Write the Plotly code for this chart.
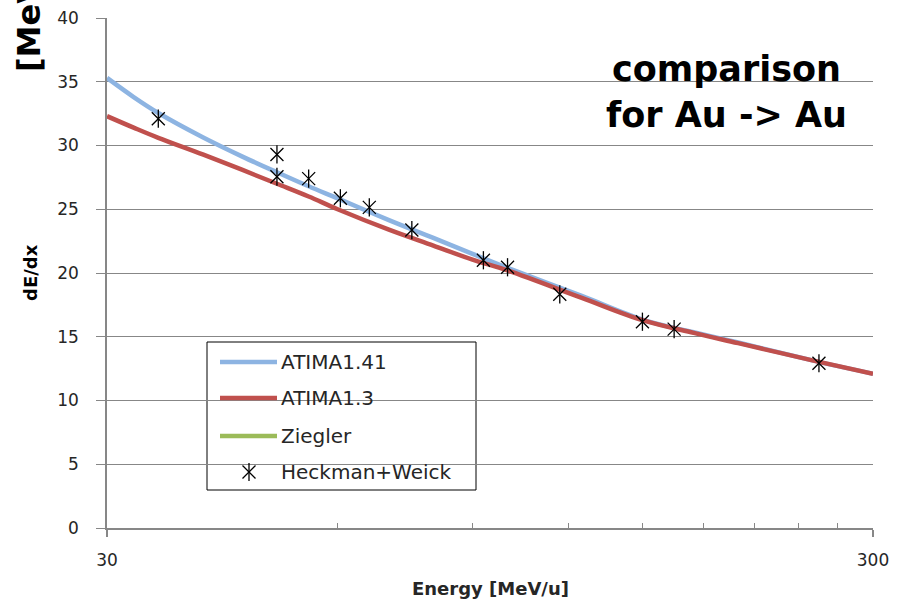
import plotly.graph_objects as go

# Stopping power curves (energy in MeV/u, dE/dx)
energy_curve = [30, 32.5, 35, 40, 45, 50, 55, 60, 70, 80, 90, 100, 125, 150, 175, 200, 250, 300]
dedx_atima141 = [35.3, 33.8, 32.55, 30.65, 29.15, 27.9, 26.8, 25.85, 24.15, 22.75, 21.5, 20.4,
                 18.2, 16.35, 15.35, 14.55, 13.15, 12.1]
dedx_atima13 = [32.3, 31.4, 30.6, 29.3, 28.1, 27.0, 26.0, 25.0, 23.4, 22.15, 21.05, 20.2,
                18.05, 16.3, 15.3, 14.5, 13.15, 12.1]

# Heckman+Weick measurements
energy_hw = [35, 50, 50, 55, 60.5, 66, 75, 93, 100, 117, 150, 165, 255]
dedx_hw = [32.1, 29.3, 27.55, 27.4, 25.86, 25.15, 23.37, 21.0, 20.45, 18.33, 16.18, 15.6, 12.92]

series_names = ["ATIMA1.41", "ATIMA1.3", "Ziegler", "Heckman+Weick"]
series_colors = ["#8db4e2", "#c0504d", "#9bbb59", "#000000"]

x_ticks = [30, 300]
x_minor_ticks = [60, 90, 120, 150, 180, 210, 240, 270]

W, H = 899, 601
L, R, T, B = 107, 26, 18, 73
PW, PH = W - L - R, H - T - B


def px(x):
    return (x - L) / PW


def py(y):
    return (H - B - y) / PH


GRAY = "#878787"
TXT = "#262626"

fig = go.Figure()

fig.add_trace(go.Scatter(x=energy_curve, y=dedx_atima141, mode="lines",
                         line=dict(color=series_colors[0], width=4.5, shape="spline",
                                   smoothing=1.0),
                         showlegend=False))
fig.add_trace(go.Scatter(x=energy_curve, y=dedx_atima13, mode="lines",
                         line=dict(color=series_colors[1], width=4.5, shape="spline",
                                   smoothing=1.0),
                         showlegend=False))
# star marker: an X plus a vertical stroke
for sym in ["x-thin-open", "line-ns-open"]:
    fig.add_trace(go.Scatter(x=energy_hw, y=dedx_hw, mode="markers",
                             marker=dict(symbol=sym, size=13, color="black",
                                         line=dict(color="black", width=1.3)),
                             showlegend=False))

# Legend drawn in paper space
box = dict(x0=px(207), x1=px(476), y0=py(490), y1=py(342))
shapes = [dict(type="rect", xref="paper", yref="paper", **box,
               line=dict(color="black", width=1), fillcolor="white", layer="between")]
row_y = [362, 398, 436, 472]
annotations = []
for i, (name, col, ry) in enumerate(zip(series_names, series_colors, row_y)):
    if i < 3:
        shapes.append(dict(type="line", xref="paper", yref="paper",
                           x0=px(220), x1=px(277), y0=py(ry), y1=py(ry),
                           line=dict(color=col, width=4.5), layer="above"))
    annotations.append(dict(xref="paper", yref="paper", x=px(279), y=py(ry),
                            xanchor="left", yanchor="middle", showarrow=False,
                            text=name, font=dict(family="DejaVu Sans", size=20, color=TXT)))

for sym in ["x-thin-open", "line-ns-open"]:
    fig.add_trace(go.Scatter(x=[px(249)], y=[py(472)], xaxis="x2", yaxis="y2",
                             mode="markers",
                             marker=dict(symbol=sym, size=13, color="black",
                                         line=dict(color="black", width=1.3)),
                             showlegend=False))

annotations.append(dict(xref="paper", yref="paper", x=px(726), y=py(92),
                        xanchor="center", yanchor="middle", showarrow=False,
                        text="comparison<br>for Au -> Au", align="center",
                        font=dict(family="DejaVu Sans", size=35, color="black", weight="bold")))
annotations.append(dict(xref="paper", yref="paper", x=px(30), y=py(273),
                        xanchor="center", yanchor="middle", showarrow=False,
                        textangle=-90, text="dE/dx",
                        font=dict(family="DejaVu Sans", size=18, color="black", weight="bold")))
annotations.append(dict(xref="paper", yref="paper", x=px(29), y=py(26),
                        xanchor="center", yanchor="middle", showarrow=False,
                        textangle=-90, text="[MeV",
                        font=dict(family="DejaVu Sans", size=32, color="black", weight="bold")))
annotations.append(dict(xref="paper", yref="paper", x=px(490), y=py(588),
                        xanchor="center", yanchor="middle", showarrow=False,
                        text="Energy [MeV/u]",
                        font=dict(family="DejaVu Sans", size=18, color=TXT, weight="bold")))

fig.update_layout(
    width=W, height=H,
    margin=dict(l=L, r=R, t=T, b=B, autoexpand=False),
    paper_bgcolor="white", plot_bgcolor="white",
    showlegend=False,
    shapes=shapes, annotations=annotations,
    xaxis=dict(type="log", range=[1.4771, 2.4771], automargin=False,
               tickvals=x_ticks, ticktext=[str(v) for v in x_ticks],
               ticks="outside", ticklen=7, tickcolor=GRAY, tickwidth=1.5,
               showline=True, linecolor=GRAY, linewidth=1.5,
               showgrid=False, zeroline=False,
               ticklabelstandoff=9,
               tickfont=dict(family="DejaVu Sans", size=17, color=TXT),
               minor=dict(tickvals=x_minor_ticks, ticks="inside", ticklen=5,
                          tickcolor=GRAY, tickwidth=1.2, showgrid=False)),
    yaxis=dict(range=[0, 40], tick0=0, dtick=5, automargin=False,
               ticks="outside", ticklen=9, tickcolor=GRAY, tickwidth=1.3,
               showline=True, linecolor=GRAY, linewidth=1.5,
               showgrid=True, gridcolor=GRAY, gridwidth=1.2, zeroline=False,
               ticklabelstandoff=14,
               tickfont=dict(family="DejaVu Sans", size=17, color=TXT)),
    xaxis2=dict(overlaying="x", anchor="y2", range=[0, 1], visible=False, fixedrange=True),
    yaxis2=dict(overlaying="y", anchor="x2", range=[0, 1], visible=False, fixedrange=True),
)

fig.write_html("out.html")
